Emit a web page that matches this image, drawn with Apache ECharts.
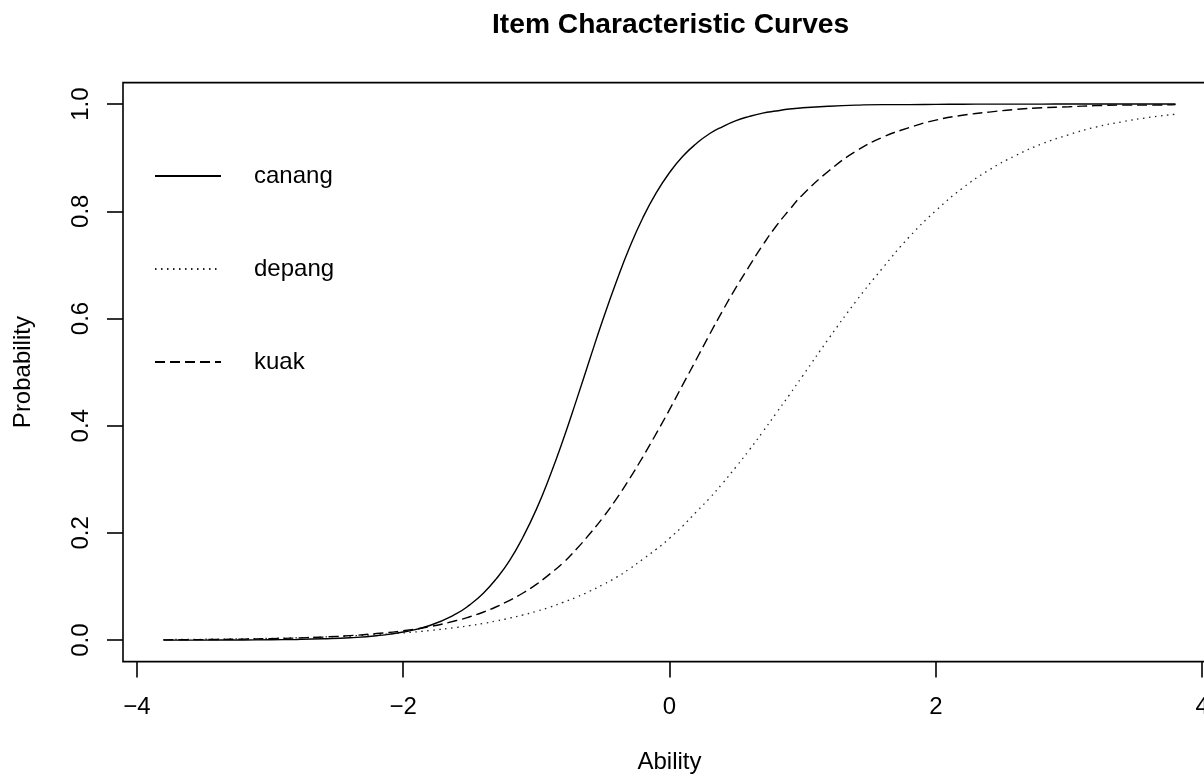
<!DOCTYPE html>
<html>
<head>
<meta charset="utf-8">
<title>Item Characteristic Curves</title>
<script src="https://cdn.jsdelivr.net/npm/echarts@6/dist/echarts.min.js"></script>
<style>
  html, body { margin: 0; padding: 0; background: #fff; overflow: hidden; }
  #chart { width: 1230px; height: 776px; }
</style>
</head>
<body>
<div id="chart"></div>
<script>
// Ability grid (theta) at which each curve is tabulated; finer where the curves are steep
const ability = [
  -3.8, -3.6, -3.4, -3.2, -3.0, -2.8, -2.6, -2.4, -2.2, -2.0,
  -1.8, -1.6, -1.5, -1.4, -1.3, -1.2, -1.1, -1.0, -0.9, -0.8,
  -0.7, -0.6, -0.5, -0.4, -0.3, -0.2, -0.1, 0.0, 0.1, 0.2,
  0.3, 0.4, 0.5, 0.6, 0.7, 0.8, 0.9, 1.0, 1.2, 1.4,
  1.6, 1.8, 2.0, 2.2, 2.4, 2.6, 2.8, 3.0, 3.2, 3.4,
  3.6, 3.8
];

// Probability of a correct response for each item
const canang = [
  0.0001, 0.0001, 0.0002, 0.0004, 0.0007, 0.0013, 0.0025, 0.0045, 0.0082, 0.0151,
  0.0274, 0.0493, 0.0658, 0.087, 0.1147, 0.149, 0.1925, 0.244, 0.305, 0.373,
  0.4468, 0.523, 0.598, 0.668, 0.7323, 0.788, 0.8343, 0.872, 0.9026, 0.926,
  0.9446, 0.958, 0.9691, 0.977, 0.983, 0.987, 0.9907, 0.993, 0.996, 0.998,
  0.999, 0.999, 0.9994, 0.9997, 0.9998, 0.9999, 0.9999, 1.0, 1.0, 1.0,
  1.0, 1.0
];
const depang = [
  0.0011, 0.0014, 0.0019, 0.0025, 0.0033, 0.0044, 0.0058, 0.0077, 0.0103, 0.0135,
  0.018, 0.0237, 0.0272, 0.0311, 0.0358, 0.0411, 0.047, 0.0537, 0.0615, 0.0705,
  0.080, 0.0911, 0.1036, 0.117, 0.1331, 0.151, 0.1694, 0.19, 0.2131, 0.239,
  0.2646, 0.293, 0.3234, 0.355, 0.3884, 0.423, 0.4575, 0.493, 0.564, 0.632,
  0.694, 0.752, 0.801, 0.843, 0.877, 0.904, 0.926, 0.943, 0.957, 0.967,
  0.975, 0.981
];
const kuak = [
  0.0006, 0.0009, 0.0013, 0.0019, 0.0028, 0.004, 0.0058, 0.0084, 0.0123, 0.0176,
  0.0253, 0.0366, 0.0437, 0.0521, 0.0623, 0.0744, 0.088, 0.104, 0.1231, 0.144,
  0.1695, 0.198, 0.2287, 0.263, 0.3012, 0.342, 0.3852, 0.43, 0.4766, 0.523,
  0.5697, 0.615, 0.658, 0.698, 0.7367, 0.772, 0.8026, 0.831, 0.876, 0.912,
  0.938, 0.956, 0.97, 0.979, 0.985, 0.99, 0.993, 0.995, 0.997, 0.998,
  0.998, 0.999
];

// Tick positions
const xTicks = [-4, -2, 0, 2, 4];
const yTicks = [0, 0.2, 0.4, 0.6, 0.8, 1.0];

const FONT = '"Liberation Sans", Arial, Helvetica, sans-serif';

function pairs(xs, ys) {
  return xs.map((x, i) => [x, ys[i]]);
}

const chart = echarts.init(document.getElementById('chart'), null, { renderer: 'canvas' });

chart.setOption({
  animation: false,
  backgroundColor: '#ffffff',
  title: {
    text: 'Item Characteristic Curves',
    left: 492,
    top: 11,
    padding: 0,
    textStyle: {
      fontFamily: FONT,
      fontSize: 28.2,
      fontWeight: 'bold',
      color: '#000'
    }
  },
  legend: {
    orient: 'vertical',
    left: 154,
    top: 164,
    padding: 0,
    itemWidth: 66,
    itemHeight: 24,
    itemGap: 69,
    data: ['canang', 'depang', 'kuak'],
    // keep only the line sample in each key, no marker
    itemStyle: { color: 'transparent', borderWidth: 0, opacity: 0 },
    textStyle: {
      fontFamily: FONT,
      fontSize: 24,
      lineHeight: 24,
      color: '#000',
      padding: [0, 0, 0, 28]
    }
  },
  grid: {
    left: 123,
    top: 82.6,
    width: 1093,
    height: 579,
    containLabel: false,
    outerBoundsMode: 'none',
    show: true,
    borderColor: '#000',
    borderWidth: 1.6,
    backgroundColor: 'transparent'
  },
  xAxis: {
    type: 'value',
    min: -4.104,
    max: 4.104,
    name: 'Ability',
    nameLocation: 'middle',
    nameGap: 89,
    nameTextStyle: { fontFamily: FONT, fontSize: 24, color: '#000' },
    axisLine: { show: false, onZero: false },
    splitLine: { show: false },
    axisTick: {
      show: true,
      inside: false,
      length: 16,
      customValues: xTicks,
      lineStyle: { color: '#000', width: 1.6 }
    },
    axisLabel: {
      show: true,
      margin: 34,
      customValues: xTicks,
      fontFamily: FONT,
      fontSize: 24,
      color: '#000',
      formatter: v => (v < 0 ? '\u2212' + Math.abs(v) : String(v))
    }
  },
  yAxis: {
    type: 'value',
    min: -0.04,
    max: 1.04,
    name: 'Probability',
    nameLocation: 'middle',
    nameGap: 88,
    nameTextStyle: { fontFamily: FONT, fontSize: 24, color: '#000' },
    axisLine: { show: false, onZero: false },
    splitLine: { show: false },
    axisTick: {
      show: true,
      inside: false,
      length: 16,
      customValues: yTicks,
      lineStyle: { color: '#000', width: 1.6 }
    },
    axisLabel: {
      show: true,
      rotate: 90,
      margin: 30,
      customValues: yTicks,
      fontFamily: FONT,
      fontSize: 24,
      color: '#000',
      formatter: v => v.toFixed(1)
    }
  },
  series: [
    {
      name: 'canang',
      type: 'line',
      data: pairs(ability, canang),
      smooth: true,
      symbol: 'none',
      lineStyle: { color: '#000', width: 1.4, type: 'solid' },
      itemStyle: { color: '#000' }
    },
    {
      name: 'depang',
      type: 'line',
      data: pairs(ability, depang),
      smooth: true,
      symbol: 'none',
      lineStyle: { color: '#222', width: 1.3, type: [1.5, 4.5] },
      itemStyle: { color: '#222' }
    },
    {
      name: 'kuak',
      type: 'line',
      data: pairs(ability, kuak),
      smooth: true,
      symbol: 'none',
      lineStyle: { color: '#000', width: 1.4, type: [10, 5] },
      itemStyle: { color: '#000' }
    }
  ]
});
</script>
</body>
</html>
